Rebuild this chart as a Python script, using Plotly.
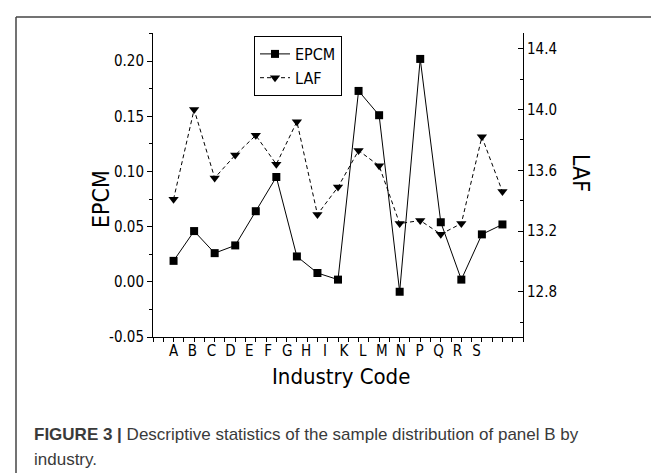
import plotly.graph_objects as go

# ---- data ----
industry_codes = ["A", "B", "C", "D", "E", "F", "G", "H", "I", "K",
                  "L", "M", "N", "P", "Q", "R", "S"]
epcm = [0.019, 0.046, 0.026, 0.033, 0.064, 0.095, 0.023, 0.008, 0.002, 0.173,
        0.151, -0.009, 0.202, 0.054, 0.002, 0.043, 0.052]
laf = [13.41, 14.00, 13.55, 13.70, 13.83, 13.64, 13.92, 13.31, 13.49, 13.73,
       13.63, 13.25, 13.27, 13.18, 13.25, 13.82, 13.46]
epcm_ticks = [-0.05, 0.00, 0.05, 0.10, 0.15, 0.20]
laf_ticks = [12.8, 13.2, 13.6, 14.0, 14.4]

W, H = 659, 473
L, R, T, B = 145, 515, 25, 329   # plot area in px
FONT = "Liberation Sans Narrow, DejaVu Sans Condensed, Arial Narrow, sans-serif"
CAPFONT = "Liberation Sans, Arial, sans-serif"

xpos = list(range(1, len(industry_codes) + 1))
label_step = 0.921
label_pos = [1 + i * label_step for i in range(len(industry_codes))]

def px_x(p):
    return (p - L) / (R - L)

def px_y(p):
    return (B - p) / (B - T)

fig = go.Figure()
fig.add_trace(go.Scatter(
    x=xpos, y=epcm, name="EPCM", mode="lines+markers",
    line=dict(color="black", width=1),
    marker=dict(symbol="square", size=8, color="black"),
    yaxis="y"))
fig.add_trace(go.Scatter(
    x=xpos, y=laf, name="LAF", mode="lines+markers",
    line=dict(color="black", width=1, dash="4px,3px"),
    marker=dict(symbol="triangle-down", size=9, color="black"),
    yaxis="y2"))

fig.update_layout(
    width=W, height=H,
    margin=dict(l=L, r=W - R, t=T, b=H - B),
    paper_bgcolor="white", plot_bgcolor="white",
    font=dict(family=FONT, color="black", size=14),
    showlegend=True,
    legend=dict(x=px_x(246), y=px_y(28), xanchor="left", yanchor="top",
                bordercolor="black", borderwidth=1, bgcolor="white",
                font=dict(family=FONT, size=16, color="black"),
                tracegroupgap=0, itemwidth=30),
    xaxis=dict(range=[0, 18], showgrid=False, zeroline=False,
               showline=True, linecolor="black", linewidth=1,
               tickmode="array", tickvals=label_pos, ticktext=industry_codes,
               ticks="", ticklen=0,
               tickfont=dict(family=FONT, size=15, color="black"),
               minor=dict(tickmode="array",
                          tickvals=[i * 0.5 for i in range(37)],
                          ticks="outside", ticklen=4, tickcolor="black",
                          tickwidth=1, showgrid=False)),
    yaxis=dict(range=[-0.05, 0.2255], showgrid=False, zeroline=False,
               showline=True, linecolor="black", linewidth=1,
               tickmode="array", tickvals=epcm_ticks,
               ticktext=[f"{v:.2f}" for v in epcm_ticks],
               ticks="outside", ticklen=5, tickcolor="black",
               tickfont=dict(family=FONT, size=15, color="black"),
               minor=dict(tickmode="linear", tick0=0, dtick=0.025,
                          ticks="outside", ticklen=3, tickcolor="black",
                          showgrid=False)),
    yaxis2=dict(range=[12.504, 14.503], overlaying="y", side="right",
                anchor="x", showgrid=False, zeroline=False,
                showline=True, linecolor="black", linewidth=1,
                tickmode="array", tickvals=laf_ticks,
                ticktext=[f"{v:.1f}" for v in laf_ticks],
                ticks="inside", ticklen=5, tickcolor="black",
                tickfont=dict(family=FONT, size=15, color="black"),
                minor=dict(tickmode="linear", tick0=0, dtick=0.2,
                           ticks="inside", ticklen=3, tickcolor="black",
                           showgrid=False)),
)

annotations = [
    dict(text="EPCM", x=px_x(93), y=px_y(191), xref="paper", yref="paper",
         textangle=-90, showarrow=False, xanchor="center", yanchor="middle",
         font=dict(family=FONT, size=23, color="black")),
    dict(text="LAF", x=px_x(573), y=px_y(165), xref="paper", yref="paper",
         textangle=90, showarrow=False, xanchor="center", yanchor="middle",
         font=dict(family=FONT, size=23, color="black")),
    dict(text="Industry Code", x=px_x(333), y=px_y(368), xref="paper", yref="paper",
         showarrow=False, xanchor="center", yanchor="middle",
         font=dict(family=FONT, size=22, color="black")),
    dict(text="<b>FIGURE 3 |</b> Descriptive statistics of the sample distribution of panel B by",
         x=px_x(24), y=px_y(426), xref="paper", yref="paper",
         showarrow=False, xanchor="left", yanchor="middle",
         font=dict(family=CAPFONT, size=17, color="#3a3a3a")),
    dict(text="industry.",
         x=px_x(24), y=px_y(451), xref="paper", yref="paper",
         showarrow=False, xanchor="left", yanchor="middle",
         font=dict(family=CAPFONT, size=17, color="#3a3a3a")),
]
fig.update_layout(annotations=annotations)

fig.update_layout(shapes=[
    dict(type="line", xref="paper", yref="paper",
         x0=px_x(8), x1=px_x(8), y0=px_y(9), y1=px_y(H + 5),
         line=dict(color="#444444", width=1.5)),
    dict(type="line", xref="paper", yref="paper",
         x0=px_x(8), x1=px_x(W + 5), y0=px_y(9), y1=px_y(9),
         line=dict(color="#444444", width=1.5)),
])

fig.write_html("out.html")
